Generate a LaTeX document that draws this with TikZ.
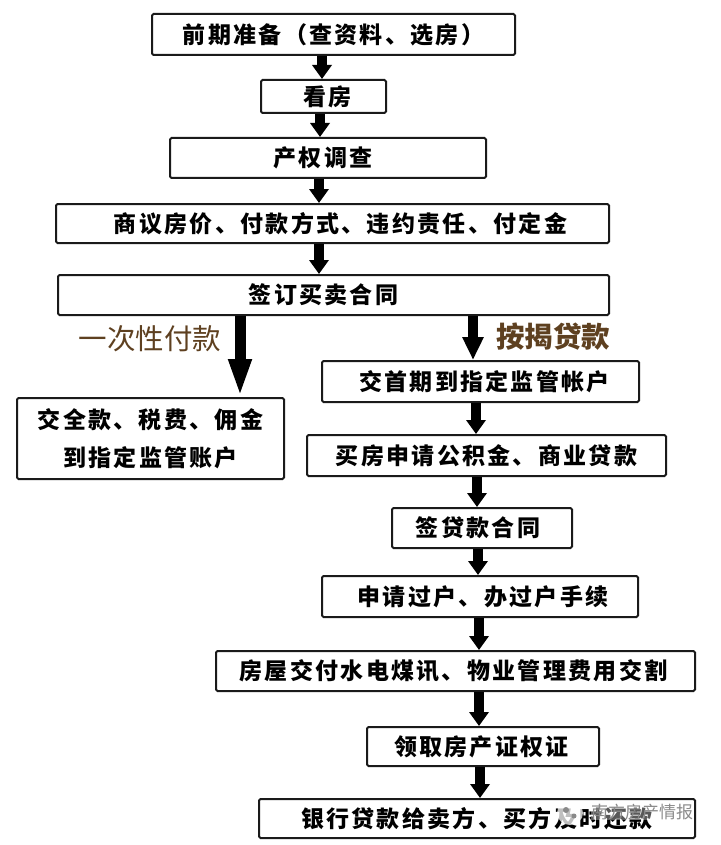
\documentclass[tikz,border=0pt]{standalone}
\usepackage{fontspec}
\usepackage{tikz}
\usetikzlibrary{arrows.meta}
\newfontfamily\cjk[LetterSpace=10]{Noto Sans CJK SC}
\newfontfamily\cjklabel{Noto Sans CJK SC}
\definecolor{linedark}{HTML}{1A1A1A}
\definecolor{labelbrown}{HTML}{5E4020}
\definecolor{marklight}{HTML}{8A8A8A}
% nudge a box text sideways by half of the given width
\newcommand{\nudge}[1]{\hspace*{#1}}

\begin{document}
\begin{tikzpicture}[x=1pt,y=-1pt,
        box/.style={draw=linedark, line width=2pt, rounded corners=1.5pt, fill=white, inner sep=0pt,
            align=center, text=black, font=\cjk\bfseries\fontsize{23}{38}\selectfont},
        flow/.style={line width=10pt, draw=black, -{Triangle[width=19pt,length=14pt]}},
        bigflow/.style={line width=11pt, draw=black, -{Triangle[width=21pt,length=38pt]}},
        midflow/.style={line width=10pt, draw=black, -{Triangle[width=20pt,length=23pt]}},
        branch/.style={text=labelbrown, inner sep=0pt, font=\cjklabel\fontsize{28.5}{30}\selectfont}]
    \useasboundingbox (0,0) rectangle (720,845);
    \node[box, minimum width=363pt, minimum height=41pt] (prep) at (333.5,34.5) {前期准备（查资料、选房）};
    \node[box, minimum width=125pt, minimum height=33pt] (visit) at (323.5,96.5) {\nudge{8pt}看房};
    \node[box, minimum width=316pt, minimum height=40pt] (check) at (328,158) {产权调查\nudge{10pt}};
    \node[box, minimum width=553pt, minimum height=39pt] (talk) at (332.5,223.5) {\nudge{16pt}商议房价、付款方式、违约责任、付定金};
    \node[box, minimum width=551pt, minimum height=40pt] (sign) at (333.5,295) {签订买卖合同\nudge{20pt}};
    \node[box, minimum width=267pt, minimum height=81pt] (full) at (150.5,438.5) {交全款、税费、佣金\\到指定监管账户};
    \node[box, minimum width=317pt, minimum height=41pt] (first) at (480.5,381.5) {\nudge{8pt}交首期到指定监管帐户};
    \node[box, minimum width=359pt, minimum height=41pt] (apply) at (486.5,455.5) {买房申请公积金、商业贷款};
    \node[box, minimum width=180pt, minimum height=40pt] (loan) at (482,528) {签贷款合同\nudge{8pt}};
    \node[box, minimum width=316pt, minimum height=41pt] (transfer) at (480,596.5) {\nudge{6pt}申请过户、办过户手续};
    \node[box, minimum width=479pt, minimum height=40pt] (handover) at (455.5,671) {房屋交付水电煤讯、物业管理费用交割\nudge{4pt}};
    \node[box, minimum width=232pt, minimum height=39pt] (cert) at (483,746.5) {领取房产证权证\nudge{3pt}};
    \node[box, minimum width=436pt, minimum height=39pt] (repay) at (477,818.5) {银行贷款给卖方、买方及时还款};

    \node[branch] (lump) at (150,339) {一次性付款};
    \node[branch, font=\cjklabel\bfseries\fontsize{28.5}{30}\selectfont] (mortgage) at (553,337) {按揭贷款};

    \foreach \from/\to/\ax in {prep/visit/322, visit/check/320, check/talk/319, talk/sign/319,
            first/apply/476, apply/loan/477, loan/transfer/478, transfer/handover/479,
            handover/cert/479, cert/repay/480}
        \draw[flow] (\ax,0 |- \from.south) -- (\ax,0 |- \to.north);
    \draw[bigflow] (240,0 |- sign.south) -- (240,0 |- full.north);
    \draw[midflow] (473,0 |- sign.south) -- (473,0 |- first.north);

    % watermark over the last box
    \fill[white, opacity=.75] (570,813) ellipse (13pt and 12pt);
    \fill[marklight] (566,810) circle (3pt) (574,816) circle (2.5pt);
    \node[text=marklight, fill=white, fill opacity=.35, text opacity=1, inner sep=0pt, font=\cjklabel\fontsize{17}{20}\selectfont] (mark) at (642,812) {南方房产情报};
\end{tikzpicture}
\end{document}
